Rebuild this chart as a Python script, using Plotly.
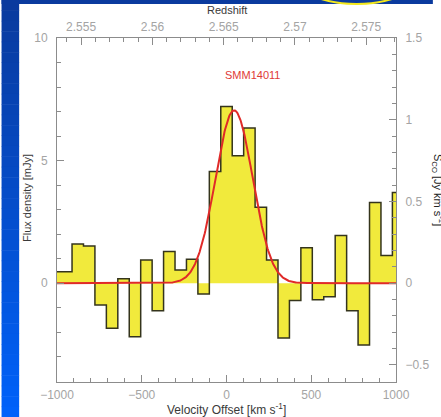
import numpy as np
import plotly.graph_objects as go

# CO spectrum of SMM14011: flux per velocity channel (mJy)
bin_width = 67.5  # km/s
channel_index = list(range(-15, 16))
flux_mjy = [0.47, 0.47, 1.60, 1.52, -0.89, -1.84, 0.18, -2.18, 0.95, -1.12,
            1.29, 0.54, 0.98, -0.44, 4.56, 7.21, 5.20, 6.33, 3.10, 0.95,
            -2.24, -0.71, 1.45, -0.68, -0.55, 1.95, -1.12, -2.52, 3.29, 1.13, 3.70]
velocity = [i * bin_width for i in channel_index]

# Gaussian fit parameters
fit_amp = 7.05      # mJy
fit_center = 45.0   # km/s
fit_sigma = 110.0   # km/s

# Redshift axis reference
z_sys = 2.5652
c_kms = 299792.458

x_ticks = [-1000, -500, 0, 500, 1000]
z_ticks = [2.555, 2.56, 2.565, 2.57, 2.575]
y_ticks = [0, 5, 10]
y2_ticks = [-0.5, 0, 0.5, 1, 1.5]
y2_scale = 0.15

v_range = [-1000, 1000]
y_range = [-4.03, 10.0]

W, H = 441, 417
L, R, T, B = 56.7, 403.3, 38.0, 382.0

def px(x):
    return (x - L) / (R - L)

def py(y):
    return (B - y) / (B - T)

v_fit = np.linspace(v_range[0], v_range[1], 600)
f_fit = fit_amp * np.exp(-0.5 * ((v_fit - fit_center) / fit_sigma) ** 2)

fig = go.Figure()
fig.add_trace(go.Scatter(
    x=velocity, y=flux_mjy, mode="lines", line_shape="hvh",
    line=dict(color="#34341c", width=1.5),
    fill="tozeroy", fillcolor="#f1ea3c", hoverinfo="skip", showlegend=False))
fig.add_trace(go.Scatter(
    x=v_fit, y=f_fit, mode="lines",
    line=dict(color="#e02a28", width=2), showlegend=False))

z_range = [z_sys + v * (1 + z_sys) / c_kms for v in v_range]
# invisible traces to activate the secondary axes
fig.add_trace(go.Scatter(x=z_range, y=[None, None], xaxis="x2", yaxis="y",
                         showlegend=False, hoverinfo="skip"))
fig.add_trace(go.Scatter(x=v_range, y=[None, None], xaxis="x", yaxis="y2",
                         showlegend=False, hoverinfo="skip"))

FAMILY = "Liberation Sans, Arial, sans-serif"
tick_font = dict(family=FAMILY, size=12, color="#a4a4a4")
axis_common = dict(showline=True, linecolor="#8c8c8c", linewidth=1, ticks="inside",
                   ticklen=7, tickcolor="#8c8c8c", tickwidth=1, showgrid=False,
                   zeroline=False, tickfont=tick_font)

fig.update_layout(
    width=W, height=H,
    margin=dict(l=L, r=W - R, t=T, b=H - B),
    paper_bgcolor="white", plot_bgcolor="white",
    xaxis=dict(range=v_range, tickvals=x_ticks, ticklabelstandoff=2,
               minor=dict(dtick=100, ticklen=4, ticks="inside", tickcolor="#8c8c8c"),
               **axis_common),
    xaxis2=dict(range=z_range, overlaying="x", side="top", tickvals=z_ticks,
                ticklabelstandoff=1,
                minor=dict(dtick=0.001, ticklen=4, ticks="inside", tickcolor="#8c8c8c"),
                **axis_common),
    yaxis=dict(range=y_range, tickvals=y_ticks, ticklabelstandoff=6,
               minor=dict(dtick=1, ticklen=4, ticks="inside", tickcolor="#8c8c8c"),
               **axis_common),
    yaxis2=dict(range=[y_range[0] * y2_scale, y_range[1] * y2_scale], overlaying="y",
                side="right", tickvals=y2_ticks, ticklabelstandoff=6,
                minor=dict(dtick=0.1, ticklen=4, ticks="inside", tickcolor="#8c8c8c"),
                **axis_common),
)

def label(x, y, text, size=11, color="#3a3a3a", angle=0, xanchor="center"):
    fig.add_annotation(x=px(x), y=py(y), xref="paper", yref="paper", text=text,
                       showarrow=False, textangle=angle, xanchor=xanchor, yanchor="middle",
                       font=dict(family=FAMILY, size=size, color=color))

# axis titles
label(230, 408.5, "Velocity Offset [km s<sup>-1</sup>]", size=12)
label(230, 10, "Redshift", size=11)
label(26, 198, "Flux density [mJy]", size=11, angle=-90)

# source name
fig.add_annotation(x=155, y=8.5, xref="x", yref="y", text="SMM14011", showarrow=False,
                   font=dict(family=FAMILY, size=11, color="#e03a36"))

# right-hand axis title, running off the page edge
label(436, 190, "S<sub>CO</sub> [Jy km s<sup>-1</sup>]", size=11, color="#222",
      angle=90, xanchor="left")

# slide background: blue gradient strips along the left and top edges
shapes = []
n_bands = 40
top_col = np.array([10, 58, 158])
bot_col = np.array([0, 98, 250])
for i in range(n_bands):
    t = i / (n_bands - 1)
    col = (top_col * (1 - t) + bot_col * t).astype(int)
    y0 = H * i / n_bands
    y1 = H * (i + 1) / n_bands + 0.5
    shapes.append(dict(type="rect", xref="paper", yref="paper",
                       x0=px(0), x1=px(18), y0=py(y1), y1=py(y0),
                       fillcolor="rgb(%d,%d,%d)" % tuple(col), line=dict(width=0), layer="above"))
shapes.append(dict(type="rect", xref="paper", yref="paper",
                   x0=px(0), x1=px(W), y0=py(4), y1=py(0),
                   fillcolor="rgb(10,58,158)", line=dict(width=0), layer="above"))
# yellow highlight ellipse running off the top of the slide
shapes.append(dict(type="circle", xref="paper", yref="paper",
                   x0=px(296), x1=px(430), y0=py(4), y1=py(-60),
                   fillcolor="rgba(0,0,0,0)", line=dict(color="#f4e81c", width=2), layer="above"))
fig.update_layout(shapes=shapes)

fig.write_html("out.html")
